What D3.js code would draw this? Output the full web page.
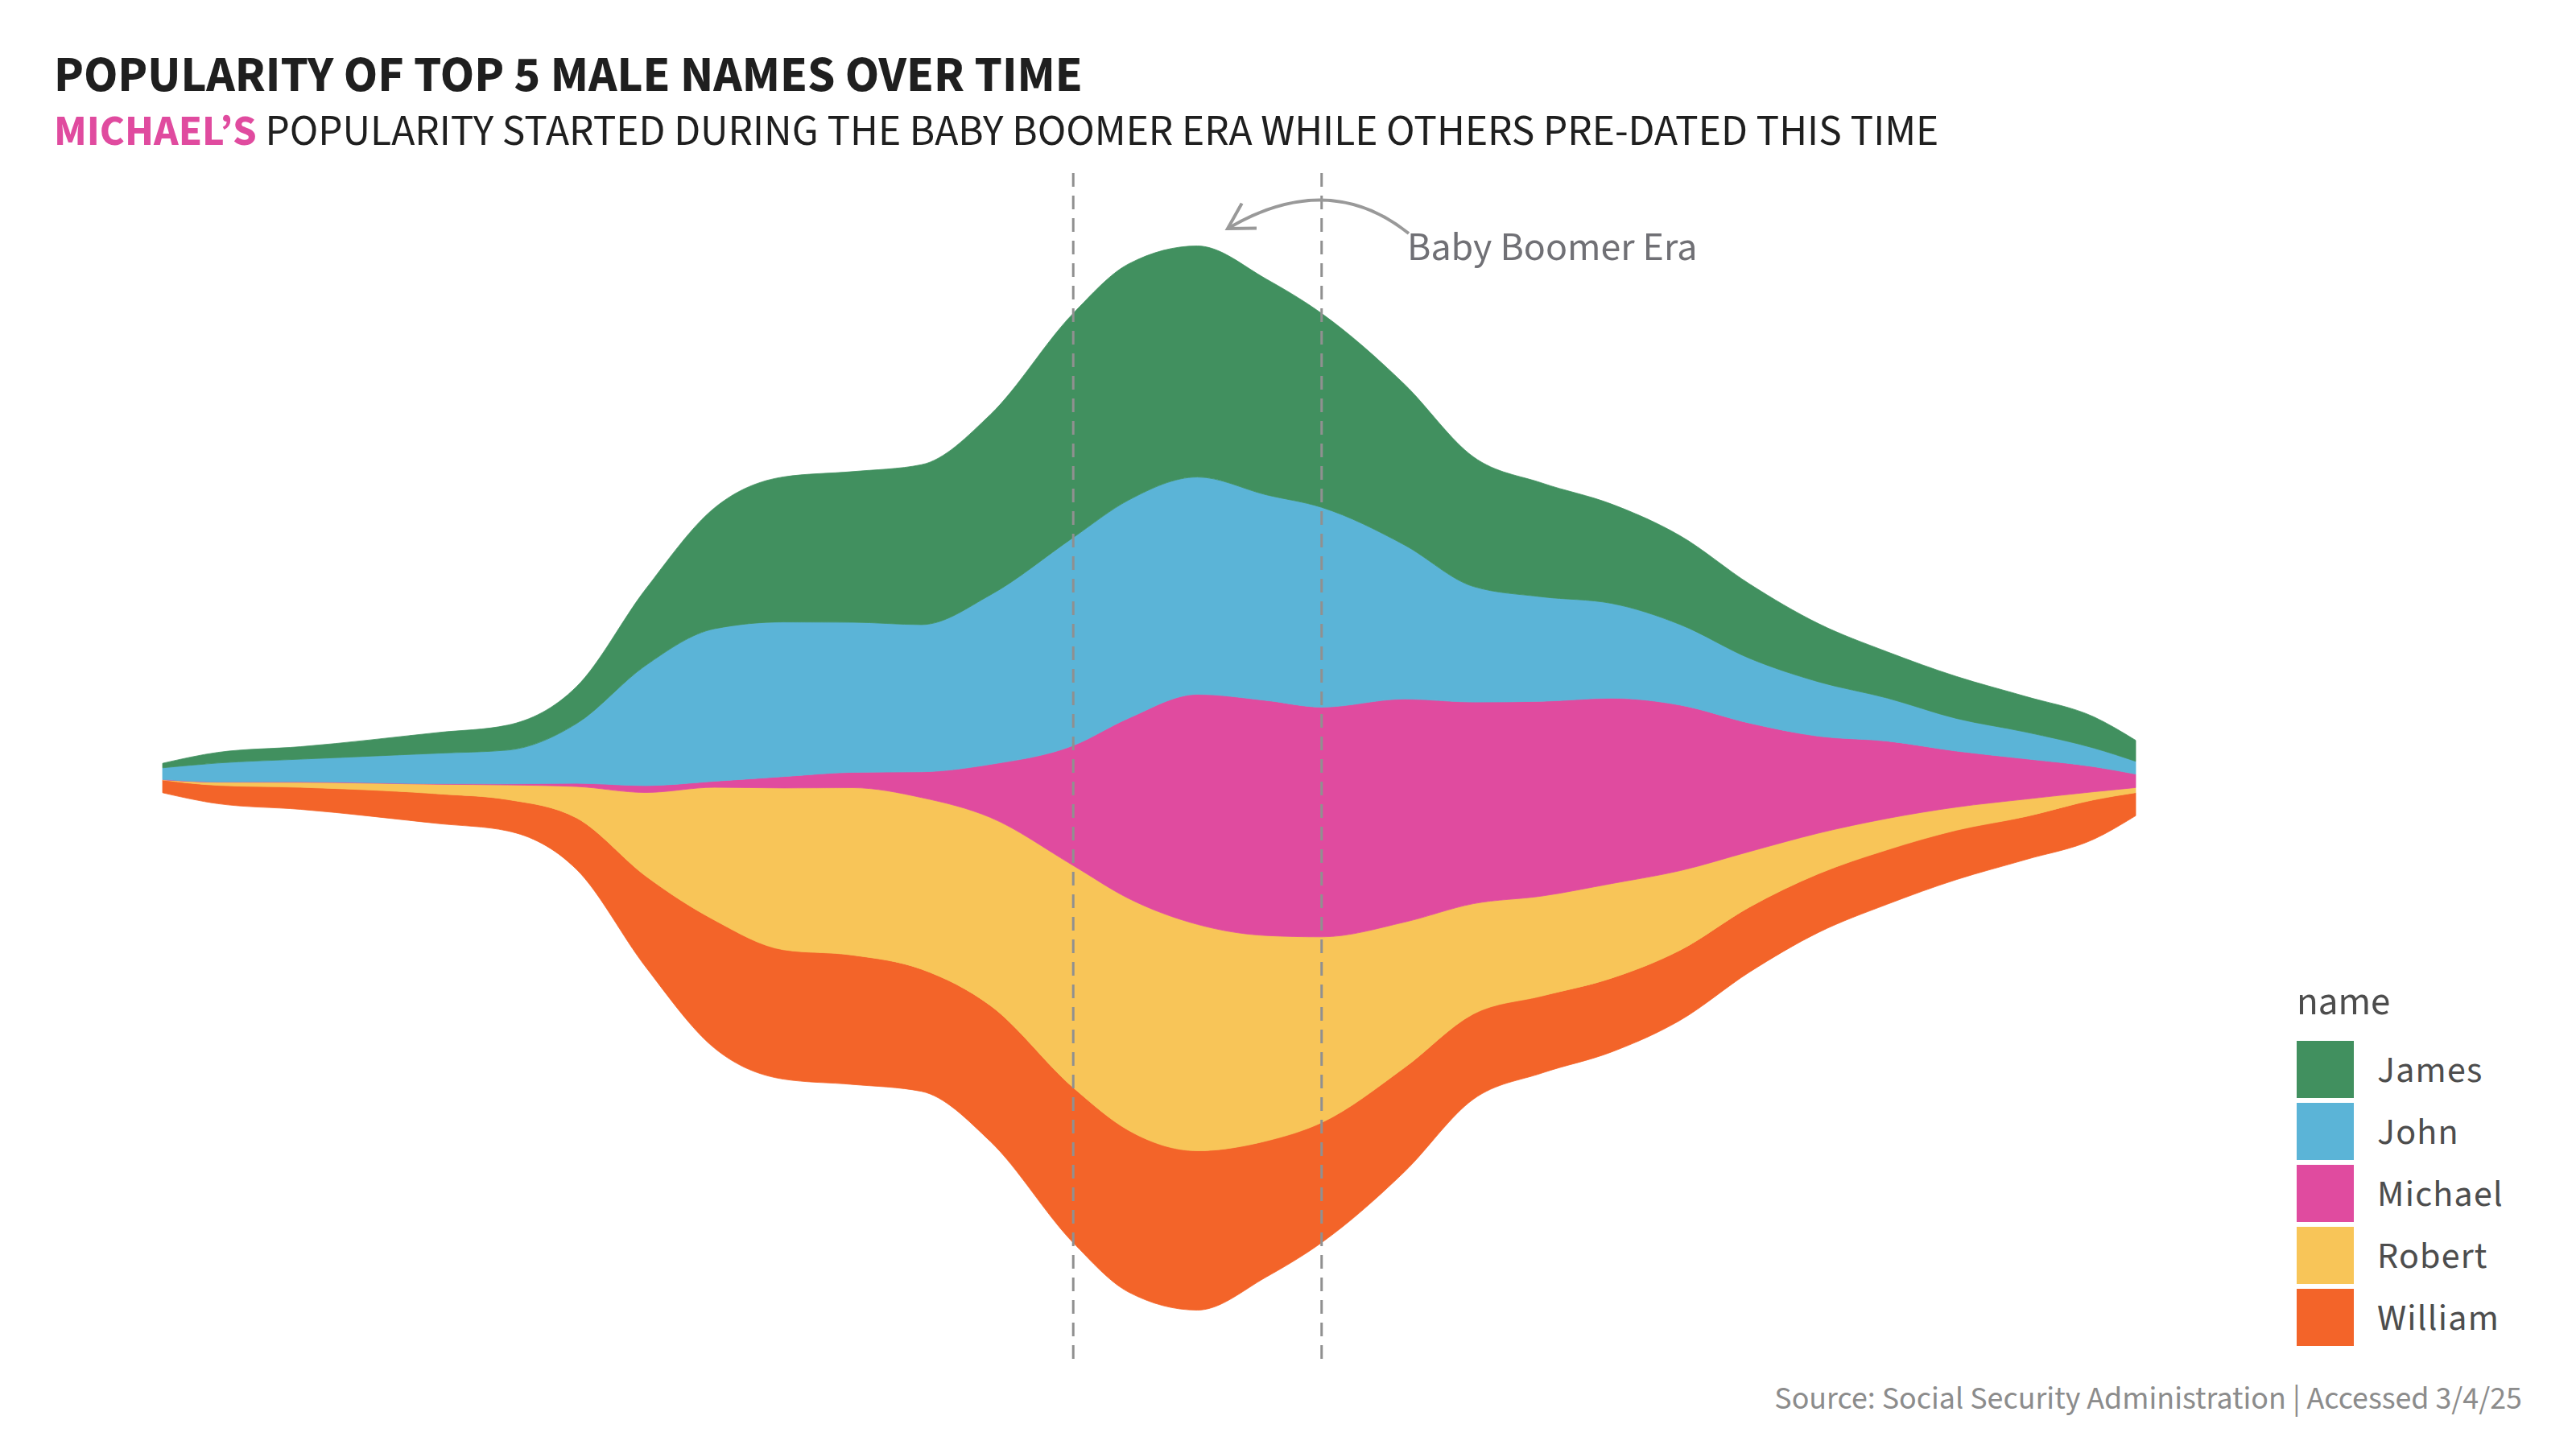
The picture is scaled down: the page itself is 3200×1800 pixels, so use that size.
<!DOCTYPE html>
<html>
<head>
<meta charset="utf-8">
<script src="https://cdn.jsdelivr.net/npm/d3@7"></script>
<style>
  html, body { margin: 0; padding: 0; background: #fff; }
  svg { display: block; font-family: "Source Sans 3", "Source Sans Pro", Lato, "Noto Sans", sans-serif; }
</style>
</head>
<body>
<div id="chart"></div>
<script>
const width = 3200;
const height = 1800;

// births per year, in thousands
const years = [1880, 1884, 1890, 1900, 1905, 1910, 1915, 1920, 1925, 1930, 1935, 1940, 1946, 1950,
  1955, 1960, 1964, 1970, 1975, 1980, 1985, 1990, 1995, 2000, 2005, 2010, 2015, 2020, 2023];
const james = [1.7, 4.0, 4.7, 7.8, 9.4, 13.9, 28.7, 45.5, 54.6, 56.7, 60.2, 67.9, 84.4, 88.9,
  87.0, 81.2, 73.0, 60.5, 48.8, 42.8, 37.4, 33.4, 28.0, 21.9, 17.4, 15.8, 13.4, 11.7, 7.9];
const john = [4.4, 7.1, 8.5, 11.5, 12.7, 22.5, 45.2, 57.4, 58.2, 56.5, 55.4, 63.8, 78.3, 82.1,
  81.8, 77.4, 75.2, 58.0, 43.5, 39.3, 35.7, 30.3, 24.4, 20.5, 16.2, 12.3, 10.1, 7.0, 4.8];
const michael = [0.1, 0.1, 0.2, 0.2, 0.4, 1.2, 2.6, 2.3, 4.3, 5.8, 9.7, 20.0, 45.2, 67.8,
  86.6, 88.5, 86.5, 84.0, 75.9, 73.3, 69.8, 62.3, 48.4, 36.5, 29.1, 21.1, 15.2, 9.4, 5.1];
const robert = [0.1, 1.2, 1.9, 3.6, 5.5, 11.8, 31.4, 50.0, 60.9, 63.0, 64.6, 70.8, 83.6, 87.3,
  85.2, 77.3, 69.9, 54.8, 41.5, 37.6, 35.6, 29.9, 20.9, 15.3, 11.8, 8.7, 6.6, 3.0, 1.9];
const william = [4.8, 6.9, 8.3, 11.2, 11.8, 19.4, 34.2, 48.2, 48.7, 48.7, 46.0, 51.2, 58.4, 60.9,
  60.0, 51.2, 45.2, 39.2, 32.1, 29.0, 27.8, 26.4, 24.5, 22.1, 20.5, 18.6, 16.2, 14.8, 8.7];

const names = ["James", "John", "Michael", "Robert", "William"];
const colors = ["#41905F", "#5BB4D7", "#E04B9F", "#F8C558", "#F36429"];
const era = [1946, 1964];

const series = { James: james, John: john, Michael: michael, Robert: robert, William: william };
const rows = years.map((yr, i) => {
  const row = { year: yr };
  names.forEach(n => row[n] = series[n][i]);
  return row;
});

const svg = d3.select("#chart")
  .append("svg")
  .attr("width", width)
  .attr("height", height);

const x = d3.scaleLinear().domain([1880, 2023]).range([202, 2653]);
const y = d3.scaleLinear().domain([-200, 200]).range([1626.5, 306.5]);
const color = d3.scaleOrdinal().domain(names).range(colors);

// William at the bottom, James on top, centred around zero
const stack = d3.stack()
  .keys(names.slice().reverse())
  .order(d3.stackOrderNone)
  .offset(d3.stackOffsetSilhouette);

const layers = stack(rows);

const area = d3.area()
  .x(d => x(d.data.year))
  .y0(d => y(d[0]))
  .y1(d => y(d[1]))
  .curve(d3.curveMonotoneX);

svg.append("g")
  .selectAll("path")
  .data(layers)
  .join("path")
  .attr("d", area)
  .attr("fill", d => color(d.key))
  .attr("stroke", d => color(d.key))
  .attr("stroke-width", 0.8);

// baby boomer era markers
svg.append("g")
  .selectAll("line")
  .data(era)
  .join("line")
  .attr("x1", d => x(d))
  .attr("x2", d => x(d))
  .attr("y1", 215)
  .attr("y2", 1698)
  .attr("stroke", "#909090")
  .attr("stroke-width", 3)
  .attr("stroke-dasharray", "17 11");

// curved arrow + label
const start = [1750, 290], ctrl = [1650, 210], tip = [1525, 284];
svg.append("path")
  .attr("d", `M${start}Q${ctrl} ${tip}`)
  .attr("fill", "none")
  .attr("stroke", "#999")
  .attr("stroke-width", 4);

const ang = Math.atan2(ctrl[1] - tip[1], ctrl[0] - tip[0]);
const headLen = 36;
const head = [ang - Math.PI / 6, ang + Math.PI / 6].map(a => [tip[0] + headLen * Math.cos(a), tip[1] + headLen * Math.sin(a)]);
svg.append("path")
  .attr("d", `M${head[0]}L${tip}L${head[1]}`)
  .attr("fill", "none")
  .attr("stroke", "#999")
  .attr("stroke-width", 4);

svg.append("text")
  .attr("x", 1748)
  .attr("y", 323)
  .attr("font-size", 50)
  .attr("fill", "#707075")
  .text("Baby Boomer Era");

// titles
svg.append("text")
  .attr("x", 67)
  .attr("y", 113)
  .attr("font-size", 62)
  .attr("font-weight", 700)
  .attr("fill", "#1f1f1f")
  .text("POPULARITY OF TOP 5 MALE NAMES OVER TIME");

const sub = svg.append("text")
  .attr("x", 67)
  .attr("y", 180)
  .attr("font-size", 53.5)
  .attr("fill", "#1f1f1f");
sub.append("tspan")
  .attr("font-weight", 700)
  .attr("fill", "#E04B9F")
  .text("MICHAEL’S");
sub.append("tspan")
  .text(" POPULARITY STARTED DURING THE BABY BOOMER ERA WHILE OTHERS PRE-DATED THIS TIME");

// legend
const legend = svg.append("g").attr("transform", "translate(2853,0)");
legend.append("text")
  .attr("x", 0)
  .attr("y", 1260)
  .attr("font-size", 49)
  .attr("fill", "#4d4d4d")
  .text("name");

const item = legend.selectAll("g.item")
  .data(names)
  .join("g")
  .attr("class", "item")
  .attr("transform", (d, i) => `translate(0,${1293 + i * 77})`);

item.append("rect")
  .attr("width", 71)
  .attr("height", 71)
  .attr("fill", d => color(d));

item.append("text")
  .attr("x", 100)
  .attr("y", 51)
  .attr("font-size", 46)
  .attr("letter-spacing", 1.2)
  .attr("fill", "#4d4d4d")
  .text(d => d);

// caption
svg.append("text")
  .attr("x", 3133)
  .attr("y", 1750)
  .attr("text-anchor", "end")
  .attr("font-size", 40)
  .attr("fill", "#8c8c8c")
  .text("Source: Social Security Administration | Accessed 3/4/25");
</script>
</body>
</html>
